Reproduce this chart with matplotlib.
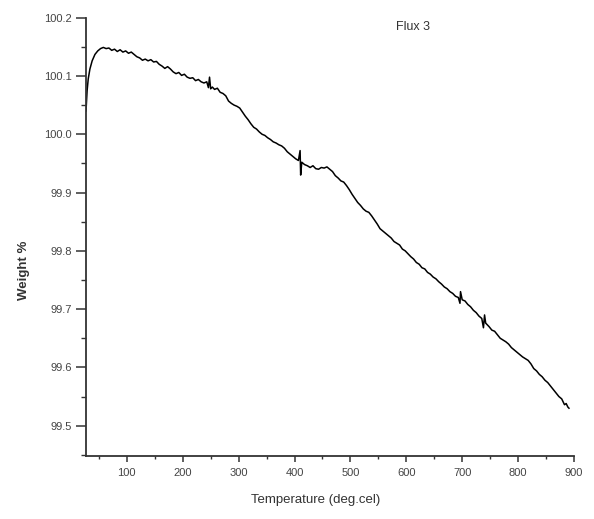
import matplotlib
matplotlib.use("Agg")
import matplotlib.pyplot as plt
from matplotlib.ticker import MultipleLocator
import matplotlib.font_manager as fm

temperature = [27, 29, 31, 34, 38, 43, 48, 53, 58, 63, 68, 73, 78, 83, 88, 93, 98,
               103, 108, 113, 118, 123, 128, 133, 138, 143, 148, 153, 158, 163, 168,
               173, 178, 183, 188, 193, 198, 203, 208, 213, 218, 223, 228, 233, 238,
               243, 246, 248, 250, 253, 257, 262, 267, 272, 277, 282, 287, 292, 297,
               302, 307, 312, 317, 322, 327, 332, 337, 342, 347, 352, 357, 362, 367,
               372, 377, 382, 387, 392, 397, 402, 407, 410, 411, 413, 418, 423, 428,
               433, 438, 443, 448, 453, 458, 463, 468, 473, 478, 483, 488, 493, 498,
               503, 508, 513, 518, 523, 528, 533, 538, 543, 548, 553, 558, 563, 568,
               573, 578, 583, 588, 593, 598, 603, 608, 613, 618, 623, 628, 633, 638,
               643, 648, 653, 658, 663, 668, 673, 678, 683, 688, 693, 696, 697, 700,
               705, 710, 715, 720, 725, 730, 735, 738, 740, 742, 748, 753, 758, 763,
               768, 773, 778, 783, 788, 793, 798, 803, 808, 813, 818, 823, 828, 833,
               838, 843, 848, 853, 858, 863, 868, 873, 878, 883, 886, 889, 891]
weight = [100.040, 100.075, 100.095, 100.112, 100.126, 100.137, 100.143, 100.147,
          100.149, 100.147, 100.148, 100.144, 100.146, 100.142, 100.145, 100.141,
          100.143, 100.139, 100.141, 100.137, 100.133, 100.131, 100.127, 100.129,
          100.126, 100.128, 100.124, 100.125, 100.120, 100.117, 100.113, 100.116,
          100.112, 100.107, 100.104, 100.106, 100.101, 100.103, 100.098, 100.096,
          100.097, 100.092, 100.094, 100.090, 100.088, 100.090, 100.080, 100.098,
          100.078, 100.081, 100.077, 100.079, 100.072, 100.070, 100.066, 100.057,
          100.053, 100.050, 100.048, 100.045, 100.038, 100.031, 100.025, 100.018,
          100.012, 100.009, 100.004, 100.000, 99.998, 99.994, 99.991, 99.987,
          99.985, 99.982, 99.980, 99.976, 99.970, 99.966, 99.962, 99.958, 99.955,
          99.972, 99.930, 99.952, 99.948, 99.946, 99.943, 99.946, 99.941, 99.940,
          99.943, 99.942, 99.944, 99.940, 99.936, 99.929, 99.925, 99.920, 99.918,
          99.912, 99.905, 99.897, 99.890, 99.883, 99.878, 99.872, 99.868, 99.866,
          99.860, 99.853, 99.846, 99.838, 99.834, 99.830, 99.826, 99.822, 99.816,
          99.813, 99.810, 99.803, 99.800, 99.795, 99.790, 99.786, 99.780, 99.777,
          99.771, 99.769, 99.763, 99.760, 99.755, 99.752, 99.747, 99.743, 99.738,
          99.735, 99.730, 99.727, 99.722, 99.720, 99.710, 99.730, 99.716, 99.714,
          99.708, 99.704, 99.698, 99.694, 99.688, 99.684, 99.668, 99.690, 99.676,
          99.670, 99.664, 99.662, 99.656, 99.650, 99.647, 99.644, 99.640, 99.634,
          99.630, 99.626, 99.622, 99.618, 99.615, 99.612, 99.606, 99.598, 99.594,
          99.588, 99.584, 99.578, 99.574, 99.568, 99.562, 99.556, 99.550, 99.546,
          99.536, 99.538, 99.532, 99.530]

x_ticks = [100, 200, 300, 400, 500, 600, 700, 800, 900]
y_ticks = [99.5, 99.6, 99.7, 99.8, 99.9, 100.0, 100.1, 100.2]

names = {f.name for f in fm.fontManager.ttflist}
narrow = 'Liberation Sans Narrow' if 'Liberation Sans Narrow' in names else 'Liberation Sans'
plt.rcParams['font.family'] = [narrow, 'DejaVu Sans']

fig = plt.figure(figsize=(5.94, 5.19), dpi=100)
ax = fig.add_axes([86/594, 1 - 455.7/519, (574 - 86)/594, (455.7 - 17.7)/519])

ax.plot(temperature, weight, color='black', lw=1.1)

ax.set_xlim(27, 900)
ax.set_ylim(99.4485, 100.2)
ax.set_xticks(x_ticks)
ax.set_yticks(y_ticks)
ax.set_yticklabels([f"{v:.1f}" for v in y_ticks])
ax.xaxis.set_minor_locator(MultipleLocator(50))
ax.yaxis.set_minor_locator(MultipleLocator(0.05))

for s in ['top', 'right']:
    ax.spines[s].set_visible(False)
for s in ['left', 'bottom']:
    ax.spines[s].set_linewidth(1.3)
    ax.spines[s].set_color('#333333')

ax.tick_params(axis='y', which='major', direction='out', length=7, width=1.1,
               color='#333333', labelsize=8, labelcolor='#444444', pad=3)
ax.tick_params(axis='y', which='minor', direction='out', length=3.5, width=1.0, color='#333333')
ax.tick_params(axis='x', which='major', direction='out', length=4.5, width=1.1,
               color='#333333', labelsize=8, labelcolor='#444444', pad=4)
ax.tick_params(axis='x', which='minor', direction='out', length=2.5, width=1.0, color='#333333')

fig.text(316/594, 1 - 500/519, 'Temperature (deg.cel)', ha='center', va='center',
         fontsize=9.5, color='#333333')
fig.text(24/594, 1 - 270/519, 'Weight %', ha='center', va='center', rotation=90,
         fontsize=9.5, fontweight='bold', color='#333333',
         family=['Liberation Sans', 'DejaVu Sans'])
fig.text(413/594, 1 - 27/519, 'Flux 3', ha='center', va='center', fontsize=9,
         color='#333333')

fig.savefig('out.png', dpi=100)
